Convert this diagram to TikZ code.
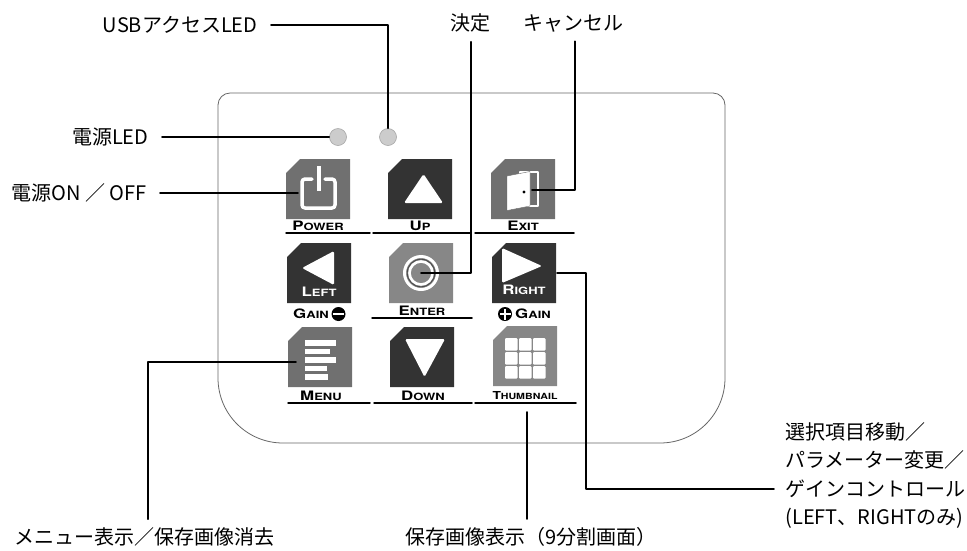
\documentclass[tikz,border=0pt]{standalone}
\usepackage{fontspec}
\setmainfont{Noto Sans CJK JP}
\newfontfamily\keyfont{TeX Gyre Heros}
\usepackage{graphicx}
\usepackage{tikz}
\definecolor{keydark}{gray}{0.20}
\definecolor{keymid}{gray}{0.44}
\definecolor{keylight}{gray}{0.53}
\definecolor{ledgray}{gray}{0.80}
\newcommand{\KeyCap}[2]{\scalebox{1.3}[1]{\keyfont\bfseries{\fontsize{13}{13}\selectfont #1}{\fontsize{10}{10}\selectfont #2}}}
\newcommand{\KeyCapS}[2]{\scalebox{1.25}[1]{\keyfont\bfseries{\fontsize{11}{11}\selectfont #1}{\fontsize{8.5}{8.5}\selectfont #2}}}
\tikzset{lead/.style={line width=1.7pt,black},
  uline/.style={line width=1.5pt,black},
  led/.style={circle,minimum size=17pt,inner sep=0pt,fill=ledgray,draw=gray!70,line width=0.6pt}}

\begin{document}
\begin{tikzpicture}[line cap=round,line join=round,x=1pt,y=-1pt,font=\fontsize{20}{24}\selectfont]
  \useasboundingbox (0,0) rectangle (967,550);
  % body of the unit
  \draw[black!60,line width=0.8pt] (230,93) -- (713,93) .. controls (719.6,93) and (725,98.4) .. (725,105)
    -- (725,378) .. controls (725,414) and (696,443) .. (660,443) -- (283,443)
    .. controls (247,443) and (218,414) .. (218,378) -- (218,105) .. controls (218,98.4) and (223.4,93) .. (230,93) -- cycle;
  % LEDs
  \foreach \n/\x in {pled/338,uled/388}
  \node[led] (\n) at (\x,137) {};
  % keys
  \foreach \n/\x/\y/\c in {power/286/159/keymid,up/388/159/keydark,exit/491/159/keymid,
    left/287/243/keydark,enter/389/243/keylight,right/492/243/keydark,
    menu/288/327/keymid,down/390/327/keydark,thumb/493/326/keylight}
  {
  \fill[\c] (\x+14,\y) -- (\x+64,\y) -- (\x+64,\y+60) -- (\x,\y+60) -- (\x,\y+14) -- cycle;
  \coordinate (\n) at (\x+32,\y+30);
  }
  % icons
  \draw[white,line width=3.5pt,rounded corners=3pt] (312,179) -- (302,179) -- (302,208) -- (335,208) -- (335,179) -- (325,179);
  \draw[white,line width=4pt,line cap=butt] (318.5,166) -- (318.5,191);
  \fill[white,rounded corners=1.5pt] (404,203) -- (443,203) -- (423.5,174) -- cycle;
  \draw[white,line width=1.3pt] (520,172) rectangle (538,206);
  \fill[white,draw=black!60,line width=0.4pt] (507,176) -- (530,171.5) -- (530,206) -- (507,210.5) -- cycle;
  \fill[black] (524,192) circle (1.6pt);
  \fill[white,rounded corners=1.5pt] (302,268) -- (334,251) -- (334,285) -- cycle;
  \draw[white,line width=3pt] (enter) circle (16.5pt);
  \draw[black!70,line width=0.9pt] (enter) circle (13.8pt);
  \draw[white,line width=2.6pt] (enter) circle (11.5pt);
  \fill[white,rounded corners=1.5pt] (502,248) -- (542,266) -- (502,283) -- cycle;
  \foreach \y/\w in {343/31,351.5/25,360/31,368.5/22,377/23}
  \fill[white] (305,\y-2.6) rectangle ++(\w,5.2);
  \fill[white,rounded corners=1.5pt] (405,339) -- (445,339) -- (424.5,377) -- cycle;
  \foreach \i in {0,1,2}
  \foreach \j in {0,1,2}
  \fill[white,rounded corners=1pt] (505+14*\i,338+14*\j) rectangle ++(12.5,12.5);
  % key names
  \node (lpower) at (318,226) {\KeyCap{P}{OWER}};
  \node (lup) at (420,226) {\KeyCap{U}{P}};
  \node (lexit) at (523,226) {\KeyCap{E}{XIT}};
  \node[white] (lleft) at (319,292) {\KeyCap{L}{EFT}};
  \node[white] (lright) at (524,290) {\KeyCap{R}{IGHT}};
  \node (lgainm) at (311,314) {\KeyCap{G}{AIN}};
  \node (lenter) at (422,311) {\KeyCap{E}{NTER}};
  \node (lgainp) at (533,314) {\KeyCap{G}{AIN}};
  \node (lmenu) at (321,396) {\KeyCap{M}{ENU}};
  \node (ldown) at (423,396) {\KeyCap{D}{OWN}};
  \node (lthumb) at (525,396) {\KeyCapS{T}{HUMBNAIL}};
  \fill (338.5,314) circle (7pt);
  \fill[white] (333,312.6) rectangle (344,315.4);
  \fill (505,314) circle (7pt);
  \fill[white] (499.5,312.6) rectangle (510.5,315.4);
  \fill[white] (503.6,308.5) rectangle (506.4,319.5);
  \foreach \a/\b/\y in {286/370/233,373/470/233,475/574/233,372/472/318,288/370/403,374/472/403,475/576/403}
  \draw[uline] (\a,\y) -- (\b,\y);
  % callout texts
  \node[anchor=east] (usbtxt) at (261,25) {USBアクセスLED};
  \node[anchor=east] (pledtxt) at (152,137) {電源LED};
  \node[anchor=east] (pwrtxt) at (150,193) {電源ON ／ OFF};
  \node (kettei) at (470,23) {決定};
  \node (cancel) at (573,23) {キャンセル};
  \node (menutxt) at (145,537) {メニュー表示／保存画像消去};
  \node[anchor=west] (thumbtxt) at (402,537) {保存画像表示（9分割画面）};
  \node[anchor=west] (rtxt1) at (782,432) {選択項目移動／};
  \node[anchor=west] (rtxt2) at (782,460) {パラメーター変更／};
  \node[anchor=west] (rtxt3) at (782,489) {ゲインコントロール};
  \node[anchor=west] (rtxt4) at (782,518) {(LEFT、RIGHTのみ)};
  % leader lines
  \coordinate (powerpt) at (298,193);
  \coordinate (exitpt) at (532,190);
  \coordinate (menupt) at (296,362);
  \coordinate (thumbpt) at (527,412);
  \coordinate (rightpt) at (557,273);
  \coordinate (rbend) at (586,489);
  \draw[lead] ([xshift=10pt]usbtxt.east) -| (uled.north);
  \draw[lead] ([xshift=10pt]pledtxt.east) -- (pled.west);
  \draw[lead] ([xshift=10pt]pwrtxt.east) -- (powerpt);
  \draw[lead] (enter) -| ([xshift=1pt,yshift=-6pt]kettei.south);
  \draw[lead] (exitpt) -| ([xshift=2pt,yshift=-6pt]cancel.south);
  \draw[lead] (menupt) -| ([xshift=3pt,yshift=5pt]menutxt.north);
  \draw[lead] (thumbpt) -- ([yshift=5pt]thumbpt |- thumbtxt.north);
  \draw[lead] (rightpt) -| (rbend) -- ([xshift=-8pt]rtxt3.west);
\end{tikzpicture}
\end{document}
